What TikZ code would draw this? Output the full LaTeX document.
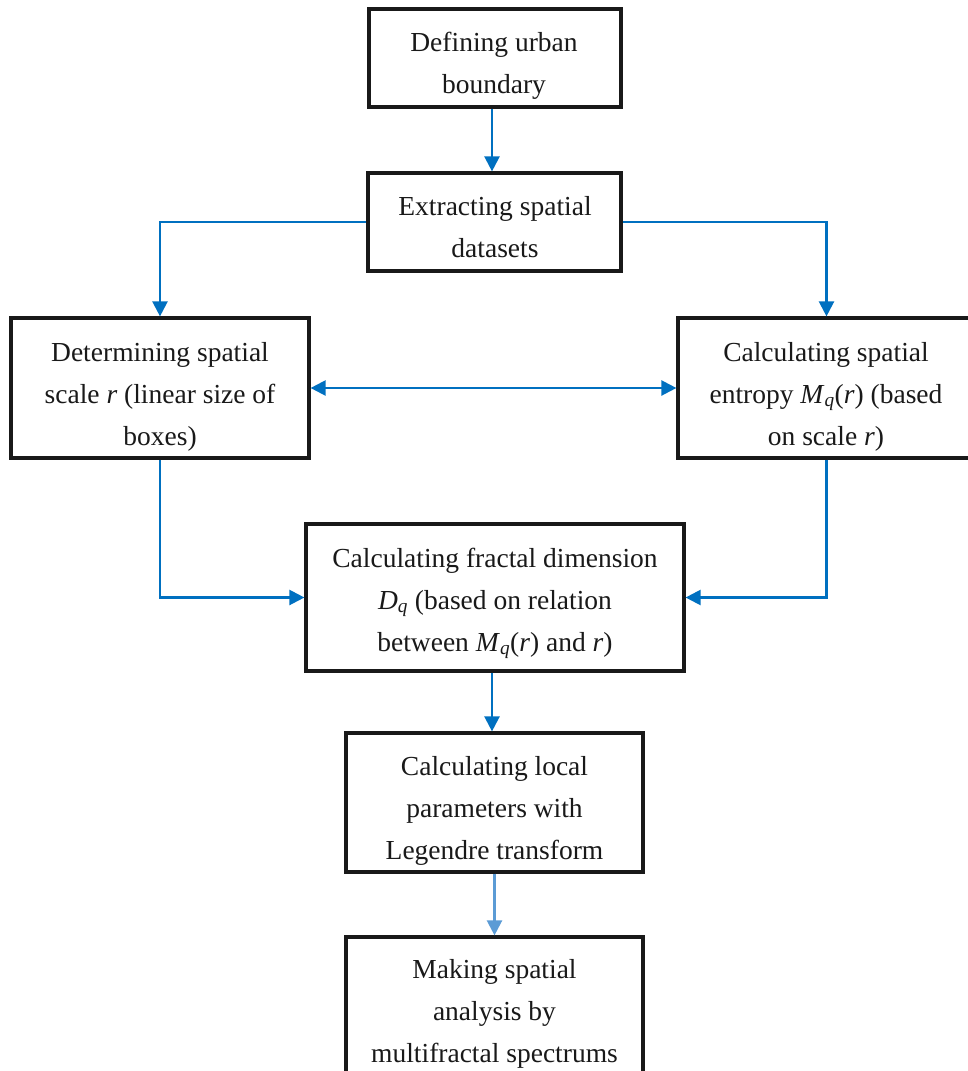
\documentclass[tikz,border=0pt]{standalone}
\usepackage{fontspec}
\setmainfont{Liberation Serif}
\usetikzlibrary{arrows.meta}
\definecolor{flowblue}{HTML}{0070C0}
\definecolor{lightblue}{HTML}{5B9BD5}
\newcommand{\Mq}{\textit{M}\textsubscript{\textit{q}}(\textit{r})}
\begin{document}
\begin{tikzpicture}[x=1pt,y=-1pt,
  box/.style={draw=black!90, line width=3.2pt, fill=white, inner sep=0pt, rectangle},
  txt/.style={align=center, inner sep=0pt, anchor=base, font=\fontsize{27.5}{42}\selectfont, text=black!90},
  arr/.style={draw=flowblue, line width=2.3pt, -{Triangle[length=15pt,width=15pt]}},
  darr/.style={draw=flowblue, line width=2.3pt, {Triangle[length=15pt,width=15pt]}-{Triangle[length=15pt,width=15pt]}},
  larr/.style={draw=lightblue, line width=2.3pt, -{Triangle[length=15pt,width=15pt]}}]
\useasboundingbox (0,0) rectangle (968,1071);
\clip (0,0) rectangle (968,1071);
% boxes
\node[box, minimum width=252pt, minimum height=98pt] (b1) at (495,58) {};
\node[box, minimum width=253pt, minimum height=98pt] (b2) at (494.5,222) {};
\node[box, minimum width=298pt, minimum height=140pt] (b3) at (160,388) {};
\node[box, minimum width=297pt, minimum height=140pt] (b4) at (826.5,388) {};
\node[box, minimum width=378pt, minimum height=147pt] (b5) at (495,597.5) {};
\node[box, minimum width=297pt, minimum height=139pt] (b6) at (494.5,802.5) {};
\node[box, minimum width=297pt, minimum height=153pt] (b7) at (494.5,1013.5) {};
% texts (anchor = baseline of last line)
\node[txt] (t1) at (494,93) {Defining urban\\boundary};
\node[txt] (t2) at (495,257) {Extracting spatial\\datasets};
\node[txt] (t3) at (160,445) {Determining spatial\\scale \textit{r} (linear size of\\boxes)};
\node[txt] (t4) at (826,445) {Calculating spatial\\entropy \Mq{} (based\\on scale \textit{r})};
\node[txt] (t5) at (495,651) {Calculating fractal dimension\\\textit{D}\textsubscript{\textit{q}} (based on relation\\between \Mq{} and \textit{r})};
\node[txt] (t6) at (494.5,859) {Calculating local\\parameters with\\Legendre transform};
\node[txt] (t7) at (494.5,1062) {Making spatial\\analysis by\\multifractal spectrums};
% connectors
\draw[arr] ([xshift=-3pt]b1.south) -- ([xshift=-3pt]b1.south |- b2.north);
\draw[arr] (b2.west) -| (b3.north);
\draw[arr] (b2.east) -| (b4.north);
\draw[darr] (b3.east) -- (b4.west);
\draw[arr] (b3.south) |- (b5.west);
\draw[arr] (b4.south) |- (b5.east);
\draw[arr] ([xshift=-3pt]b5.south) -- ([xshift=-3pt]b5.south |- b6.north);
\draw[larr] (b6.south) -- (b7.north);
\end{tikzpicture}
\end{document}
